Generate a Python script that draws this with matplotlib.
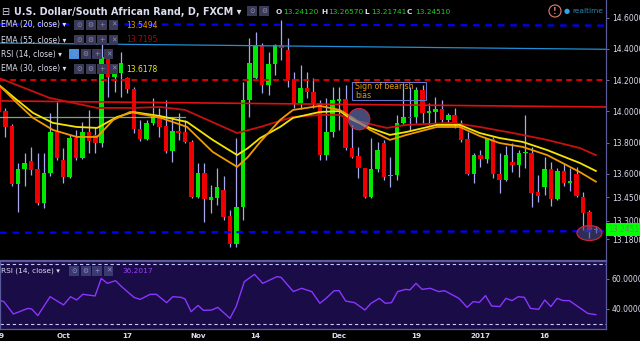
import matplotlib
matplotlib.use('Agg')
import matplotlib.pyplot as plt
import matplotlib.transforms as mtransforms
from matplotlib.patches import Ellipse, Rectangle

# daily candles USD/ZAR, 19 Sep 2016 -> 26 Jan 2017 (index = trading day)
opens = [14.169, 14.002, 13.906, 13.535, 13.631, 13.682, 13.631, 13.413, 13.605, 13.868,
         13.688, 13.579, 13.829, 13.701, 13.868, 13.849, 13.797, 14.349, 14.220, 14.246,
         14.214, 14.144, 13.887, 13.823, 13.926, 13.958, 13.906, 13.746, 13.874, 13.868,
         13.804, 13.451, 13.605, 13.432, 13.445, 13.496, 13.329, 13.150, 13.387, 14.073,
         14.214, 14.426, 14.169, 14.304, 14.426, 14.393, 14.208, 14.054, 14.150, 14.124,
         14.054, 13.720, 13.868, 14.067, 14.079, 13.765, 13.714, 13.637, 13.451, 13.631,
         13.797, 13.586, 13.592, 13.926, 13.964, 13.964, 14.137, 13.990, 13.996, 14.015,
         13.945, 13.977, 13.926, 13.823, 13.599, 13.720, 13.695, 13.823, 13.599, 13.560,
         13.676, 13.656, 13.733, 13.733, 13.483, 13.515, 13.631, 13.438, 13.618, 13.541,
         13.599, 13.451, 13.355, 13.2412]
highs = [14.220, 14.022, 13.919, 13.669, 13.733, 13.772, 13.733, 13.733, 13.990, 14.060,
         13.765, 13.849, 13.881, 13.932, 14.009, 13.900, 14.438, 14.374, 14.278, 14.381,
         14.220, 14.156, 13.945, 13.945, 14.086, 14.022, 14.073, 13.964, 13.990, 13.945,
         13.817, 13.669, 13.669, 13.528, 13.637, 13.586, 13.368, 13.829, 14.188, 14.470,
         14.509, 14.438, 14.381, 14.432, 14.586, 14.470, 14.252, 14.297, 14.252, 14.214,
         14.073, 14.086, 14.156, 14.156, 14.169, 13.913, 13.772, 13.640, 13.829, 13.804,
         13.817, 13.708, 13.977, 14.182, 14.156, 14.156, 14.169, 14.054, 14.092, 14.073,
         13.990, 14.022, 13.945, 13.868, 13.733, 13.752, 13.829, 13.836, 13.733, 13.778,
         13.797, 13.752, 13.977, 13.772, 13.592, 13.708, 13.676, 13.637, 13.669, 13.637,
         13.644, 13.483, 13.368, 13.2657]
lows = [13.958, 13.836, 13.522, 13.355, 13.522, 13.592, 13.400, 13.381, 13.586, 13.688,
        13.541, 13.573, 13.688, 13.695, 13.733, 13.733, 13.772, 14.092, 14.124, 14.092,
        14.118, 13.861, 13.810, 13.817, 13.913, 13.836, 13.733, 13.676, 13.817, 13.797,
        13.445, 13.445, 13.291, 13.349, 13.400, 13.304, 13.131, 13.131, 13.304, 13.964,
        14.210, 14.118, 14.105, 14.233, 14.329, 14.156, 14.022, 14.015, 14.086, 14.022,
        13.688, 13.688, 13.836, 13.881, 13.752, 13.701, 13.573, 13.445, 13.445, 13.611,
        13.560, 13.515, 13.560, 13.920, 13.881, 13.926, 13.926, 13.913, 13.926, 13.932,
        13.926, 13.894, 13.804, 13.592, 13.541, 13.644, 13.669, 13.573, 13.477, 13.555,
        13.611, 13.579, 13.637, 13.387, 13.419, 13.464, 13.394, 13.432, 13.522, 13.490,
        13.451, 13.240, 13.188, 13.21741]
closes = [13.996, 13.900, 13.535, 13.631, 13.669, 13.624, 13.413, 13.605, 13.868, 13.701,
          13.579, 13.829, 13.701, 13.868, 13.810, 13.797, 14.349, 14.220, 14.246, 14.310,
          14.144, 13.887, 13.823, 13.926, 13.964, 13.900, 13.746, 13.874, 13.861, 13.804,
          13.451, 13.605, 13.438, 13.451, 13.515, 13.323, 13.150, 13.387, 14.073, 14.310,
          14.426, 14.169, 14.304, 14.426, 14.406, 14.201, 14.054, 14.150, 14.124, 14.054,
          13.720, 13.868, 14.073, 14.079, 13.765, 13.708, 13.637, 13.451, 13.631, 13.752,
          13.579, 13.592, 13.926, 13.964, 13.958, 14.137, 13.990, 14.002, 14.015, 13.945,
          13.977, 13.926, 13.817, 13.599, 13.720, 13.695, 13.823, 13.599, 13.560, 13.720,
          13.656, 13.733, 13.740, 13.477, 13.458, 13.631, 13.438, 13.618, 13.541, 13.554,
          13.458, 13.349, 13.241, 13.2451]

# moving averages (candle index, price)
ema20_idx = [0, 2.8, 5.3, 8.4, 12.1, 15.3, 17.8, 20.4, 25.1, 29.3, 33.3, 37.1, 38.8, 40.7,
             43.8, 45.8, 50.0, 53.1, 55.1, 57.8, 60.9, 63.5, 68.2, 71.8, 74.9, 78.0, 81.6,
             85.4, 90.5, 93.0]
ema20_val = [14.169, 14.054, 13.958, 13.881, 13.836, 13.836, 13.945, 13.996, 13.960, 13.900,
             13.740, 13.644, 13.708, 13.804, 13.945, 14.009, 14.035, 14.009, 13.958, 13.881,
             13.817, 13.849, 13.900, 13.900, 13.842, 13.797, 13.772, 13.720, 13.611, 13.5494]
ema30_idx = [0, 2.8, 5.3, 8.4, 12.1, 15.3, 18.4, 20.9, 25.1, 29.3, 33.3, 37.1, 38.8, 40.7,
             43.8, 45.8, 50.0, 53.1, 55.1, 57.8, 60.9, 63.5, 68.2, 71.8, 74.9, 78.0, 81.6,
             85.4, 90.5, 93.0]
ema30_val = [14.169, 14.073, 13.990, 13.926, 13.900, 13.894, 13.964, 13.996, 13.970, 13.932,
             13.817, 13.720, 13.765, 13.829, 13.900, 13.958, 13.996, 14.002, 13.945, 13.894,
             13.849, 13.868, 13.913, 13.913, 13.861, 13.829, 13.804, 13.752, 13.669, 13.6178]
ema55_idx = [0, 7.9, 15.3, 20.9, 25.1, 29.0, 37.1, 40.7, 45.8, 50.0, 53.1, 55.1, 60.4,
             63.5, 70.7, 74.9, 80.1, 85.4, 90.5, 93.0]
ema55_val = [14.214, 14.086, 14.022, 14.022, 14.028, 14.009, 13.861, 13.900, 13.964, 13.977,
             13.977, 13.945, 13.894, 13.913, 13.926, 13.900, 13.861, 13.817, 13.765, 13.7195]

# RSI(14)
rsi_idx = [0, 0.76, 2.23, 3.19, 4.46, 5.10, 6.05, 7.96, 10.06, 11.15, 12.10, 13.06, 14.97,
           15.93, 16.88, 18.15, 19.11, 21.02, 21.98, 23.57, 24.52, 26.12, 27.07, 28.35, 28.98,
           29.94, 31.02, 31.85, 33.12, 34.08, 35.99, 36.95, 38.22, 39.81, 41.09, 43.32, 43.95,
           45.86, 47.14, 48.73, 50.00, 50.96, 52.23, 53.00, 54.02, 55.42, 57.01, 57.97, 59.24,
           60.20, 61.15, 62.11, 63.38, 64.02, 64.97, 65.93, 67.20, 68.48, 69.43, 71.66, 72.94,
           73.89, 74.85, 75.80, 76.76, 78.03, 78.99, 79.94, 80.90, 81.85, 82.81, 84.08, 85.04,
           85.99, 86.95, 87.91, 88.86, 91.73, 93.0]
rsi_val = [46.0, 44.9, 36.7, 38.2, 40.4, 40.0, 35.6, 48.2, 42.7, 48.2, 46.0, 49.8, 48.7,
           60.4, 57.1, 58.9, 54.9, 47.8, 46.4, 49.8, 49.8, 44.2, 48.2, 47.8, 46.7,
           38.2, 42.4, 39.1, 39.3, 41.1, 33.8, 41.6, 58.2, 63.1, 57.1, 61.6, 61.1,
           51.6, 53.8, 51.6, 43.8, 47.1, 52.2, 52.2, 45.3, 44.2, 39.3, 43.8, 47.1,
           43.8, 44.2, 51.6, 53.1, 52.7, 57.1, 53.1, 53.8, 51.6, 52.2, 47.1, 41.1,
           44.9, 44.4, 48.9, 42.0, 41.6, 47.1, 45.6, 48.2, 47.8, 40.4, 39.8, 46.0,
           41.6, 47.1, 45.6, 45.6, 37.1, 36.2017]

# drawn trend lines (start price, end price)
tl_blue_top = (14.560, 14.550)
tl_lightblue = (14.438, 14.398)
tl_red_dash = (14.201, 14.201)
tl_red = (14.067, 14.028)
tl_blue_bottom = (13.222, 13.232)
tl_green = (13.964, 13.964)

date_idx = [0, 10, 20, 31, 40, 53, 65, 75, 85]
date_lbl = ['19', 'Oct', '17', 'Nov', '14', 'Dec', '19', '2017', '16']
price_ticks = [14.6, 14.4, 14.2, 14.0, 13.8, 13.6, 13.45, 13.3, 13.18]

BG = '#000000'
GRID = '#5a5a9a'
TXT = '#dcdcf0'

fig = plt.figure(figsize=(6.4, 3.41), dpi=100, facecolor=BG)
ax = fig.add_axes([0, 1 - 260 / 341, 605.5 / 640, 260 / 341])
ax2 = fig.add_axes([0, 1 - 328.5 / 341, 605.5 / 640, 67.5 / 341], sharex=ax)
ax.set_facecolor(BG)
ax2.set_facecolor('#1a0c46')

x0, x1 = 0.156, 94.5
ax.set_xlim(x0, x1)
ax.set_ylim(13.047, 14.714)
ax2.set_ylim(27, 72)

# candles
n = len(opens)
idx = list(range(n))
ax.vlines(idx, lows, highs, color='#a8a8f0', lw=0.9, zorder=2)
body_col = ['#00e800' if c >= o else '#ee0000' for o, c in zip(opens, closes)]
body_bot = [min(o, c) for o, c in zip(opens, closes)]
body_h = [max(abs(c - o), 0.006) for o, c in zip(opens, closes)]
ax.bar(idx, body_h, bottom=body_bot, width=0.7, color=body_col, lw=0, zorder=3)

# trend lines
ax.plot([x0, x1], tl_blue_top, color='#0000ff', lw=1.6, dashes=(3, 2.6), zorder=4)
ax.plot([x0, x1], tl_lightblue, color='#1e8fd6', lw=0.9, zorder=4)
ax.plot([x0, x1], tl_red_dash, color='#dd0000', lw=1.4, dashes=(3, 2.2), zorder=4)
ax.plot([x0, x1], tl_red, color='#e01010', lw=1.2, zorder=4)
ax.plot([x0, x1], tl_blue_bottom, color='#0000ff', lw=1.6, dashes=(3, 2.6), zorder=4)
ax.plot([x0, 29], tl_green, color='#9ccf9c', lw=0.9, alpha=0.8, zorder=4)

# moving averages
ax.plot(ema55_idx, ema55_val, color='#c81010', lw=1.3, zorder=5)
ax.plot(ema30_idx, ema30_val, color='#f5e600', lw=1.3, zorder=5)
ax.plot(ema20_idx, ema20_val, color='#f09a00', lw=1.3, zorder=5)

# annotations
ax.add_patch(Ellipse((56.1, 13.95), 3.35, 0.137, fc=(0.42, 0.46, 0.72, 0.65),
                     ec='#d02040', lw=0.8, zorder=6))
ax.add_patch(Ellipse((92.0, 13.22), 3.9, 0.096, fc=(0.30, 0.30, 0.55, 0.6),
                     ec='#d02040', lw=0.9, zorder=6))
ax.add_patch(Rectangle((55.0, 14.073), 11.5, 0.115, fill=False, ec='#6676d0', lw=0.8, zorder=6))
ax.text(55.5, 14.13, 'Sign of bearish\nbias', color='#e8980a', fontsize=5.6,
        va='center', ha='left', linespacing=0.95, zorder=7)

# right price axis
for a in (ax, ax2):
    a.yaxis.tick_right()
    a.tick_params(axis='y', colors='#8080c0', labelcolor=TXT, labelsize=5.5,
                  length=2.5, width=0.6, pad=2)
    for s in a.spines.values():
        s.set_color(GRID)
        s.set_linewidth(0.9)
ax.spines['left'].set_visible(False)
ax.spines['top'].set_visible(False)
ax.set_yticks(price_ticks)
ax.set_yticklabels(['%.5f' % p for p in price_ticks])
ax.tick_params(axis='x', bottom=False, labelbottom=False)

ax.annotate('13.24510', xy=(1.0, closes[-1]), xycoords=('axes fraction', 'data'),
            xytext=(2, 0), textcoords='offset points', va='center', ha='left',
            fontsize=5.5, color='#6a8a6a',
            bbox=dict(boxstyle='square,pad=0.25', fc='#00ff00', ec='none'), zorder=10,
            annotation_clip=False)

# RSI pane
ax2.plot(rsi_idx, rsi_val, color='#8a35ff', lw=1.0)
ax2.axhline(70, color='#c8c8ff', lw=0.8, dashes=(3, 2.5))
ax2.axhline(30, color='#c8c8ff', lw=0.8, dashes=(3, 2.5))
ax2.set_yticks([60, 40])
ax2.set_yticklabels(['60.0000', '40.0000'])
ax2.tick_params(axis='x', bottom=False, labelbottom=False)
trans = mtransforms.blended_transform_factory(ax2.transData, ax2.transAxes)
for i, lb in zip(date_idx, date_lbl):
    ax2.text(i, -0.06, lb, transform=trans, ha='center', va='top', fontsize=5.2,
             color=TXT, fontweight='bold', clip_on=False)


# header / legend texts (figure pixels)
def fx(x):
    return x / 640


def fy(y):
    return 1 - y / 341


def icon(x, y, sym, fc='#3a3a58', col='#8e8eb0'):
    fig.text(fx(x), fy(y), sym, fontsize=4.8, color=col, ha='center', va='center',
             bbox=dict(boxstyle='square,pad=0.3', fc=fc, ec='none'))


fig.text(fx(1), fy(12), '⊟', fontsize=7, color=TXT, va='center')
fig.text(fx(14), fy(12), 'U.S. Dollar/South African Rand, D, FXCM ▾', fontsize=6.9,
         color=TXT, fontweight='bold', va='center')
icon(252, 11, '⊙')
icon(264, 11, '⚙')
hdr = [('O', 276, '13.24120', 283), ('H', 321, '13.26570', 328),
       ('L', 364, '13.21741', 371), ('C', 407, '13.24510', 415)]
for let, lx, val, vx in hdr:
    fig.text(fx(lx), fy(12), let, fontsize=5.3, color=TXT, fontweight='bold', va='center')
    fig.text(fx(vx), fy(12), val, fontsize=5.3, color='#22cc22', va='center')
fig.text(fx(555), fy(11), '!', fontsize=5.5, color='#e08070', ha='center', va='center',
         fontweight='bold', bbox=dict(boxstyle='circle,pad=0.2', fc='none', ec='#e08070', lw=0.8))
fig.text(fx(567), fy(11), '●', fontsize=5, color='#2aa8e8', ha='center', va='center')
fig.text(fx(572), fy(11), 'realtime', fontsize=5.3, color='#2a88b0', va='center')

rows = [('EMA (20, close) ▾', 25, '13.5494', '#e89a00'),
        ('EMA (55, close) ▾', 40, '13.7195', '#c00000'),
        ('RSI (14, close) ▾', 54, None, None),
        ('EMA (30, close) ▾', 69, '13.6178', '#f0f000')]
for name, y, val, col in rows:
    fig.text(fx(1), fy(y), name, fontsize=5.5, color=TXT, va='center')
    base = 79 if val is not None else 74
    for k, sym in enumerate(['⊙', '⚙', '+', '✕']):
        fc = '#4a90e0' if (val is None and k == 0) else '#3a3a58'
        icon(base + k * 11.5, y, sym, fc=fc)
    if val is not None:
        fig.text(fx(126), fy(y), val, fontsize=5.5, color=col, va='center')

fig.text(fx(1), fy(271), 'RSI (14, close) ▾', fontsize=5.3, color=TXT, va='center')
for k, sym in enumerate(['⊙', '⚙', '+', '✕']):
    icon(74 + k * 11.5, 271, sym, fc='#3a3a70', col='#9090c0')
fig.text(fx(122), fy(271), '36.2017', fontsize=5.3, color='#9a40ff', va='center')

fig.savefig('out.png', dpi=100, facecolor=BG)
